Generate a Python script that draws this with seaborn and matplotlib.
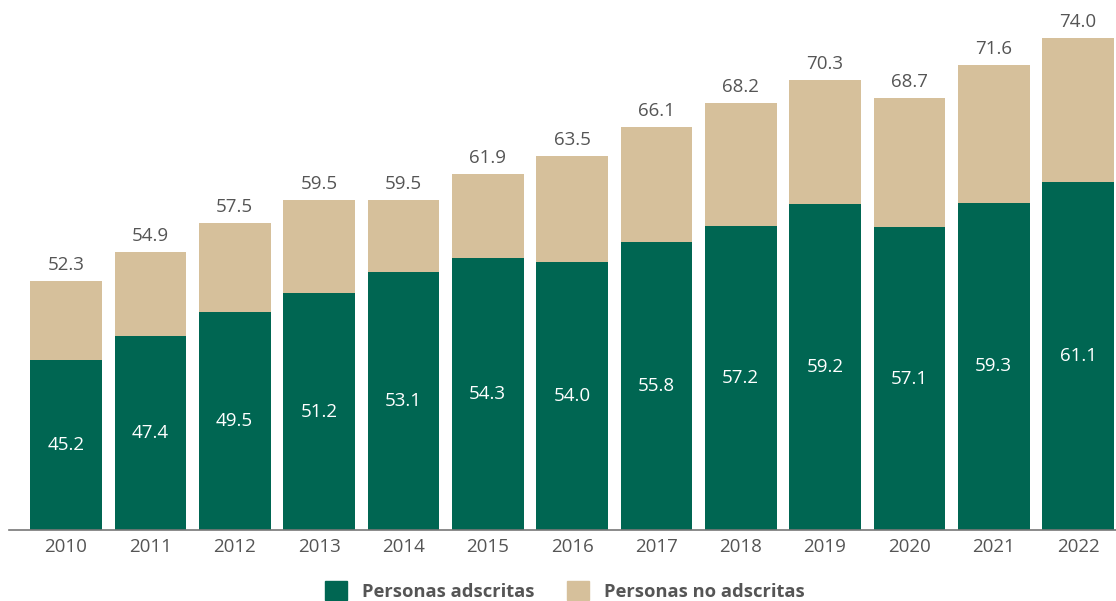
import matplotlib
matplotlib.use("Agg")
import matplotlib.pyplot as plt
import pandas as pd
import seaborn as sns
from matplotlib.patches import Patch

years = ["2010", "2011", "2012", "2013", "2014", "2015", "2016",
         "2017", "2018", "2019", "2020", "2021", "2022"]
adscritas = [45.2, 47.4, 49.5, 51.2, 53.1, 54.3, 54.0, 55.8, 57.2, 59.2, 57.1, 59.3, 61.1]
totales = [52.3, 54.9, 57.5, 59.5, 59.5, 61.9, 63.5, 66.1, 68.2, 70.3, 68.7, 71.6, 74.0]

GREEN = "#006652"
TAN = "#D6C09B"
TEXT = "#555555"
Y_MIN = 30

df = pd.DataFrame({"year": years, "adscritas": adscritas, "total": totales})

sns.set_style("white")
plt.rcParams["font.family"] = ["Open Sans", "DejaVu Sans"]

fig = plt.figure(figsize=(11.16, 6.01), dpi=100)
ax = fig.add_axes([9 / 1116, 71 / 601, 1 - 9 / 1116, 514 / 601])

sns.barplot(data=df, x="year", y="total", color=TAN, width=0.85,
            saturation=1, linewidth=0, ax=ax, order=years)
sns.barplot(data=df, x="year", y="adscritas", color=GREEN, width=0.85,
            saturation=1, linewidth=0, ax=ax, order=years)

ax.set_ylim(Y_MIN, 76)
ax.set_xlim(-0.676, 12.45)

for i, (a, t) in enumerate(zip(adscritas, totales)):
    ax.text(i, (Y_MIN + a) / 2, f"{a:.1f}", ha="center", va="center",
            color="white", fontsize=13.5)
    ax.annotate(f"{t:.1f}", (i, t), xytext=(0, 5), textcoords="offset points",
                ha="center", va="bottom", color=TEXT, fontsize=13.5)

ax.set_xlabel("")
ax.set_ylabel("")
ax.set_yticks([])
for side in ["top", "right", "left"]:
    ax.spines[side].set_visible(False)
ax.spines["bottom"].set_color("#777777")
ax.spines["bottom"].set_linewidth(1.2)
ax.tick_params(axis="x", length=0, pad=6, labelsize=13.5, labelcolor=TEXT)

handles = [Patch(color=GREEN, label="Personas adscritas"),
           Patch(color=TAN, label="Personas no adscritas")]
fig.legend(handles=handles, loc="center", bbox_to_anchor=(565 / 1116, 1 - 591 / 601),
           ncol=2, frameon=False, handlelength=1.2, handleheight=1.2,
           columnspacing=1.8, handletextpad=0.8,
           prop={"size": 13.2, "weight": "bold"}, labelcolor=TEXT)

fig.savefig("out.png", dpi=100)
